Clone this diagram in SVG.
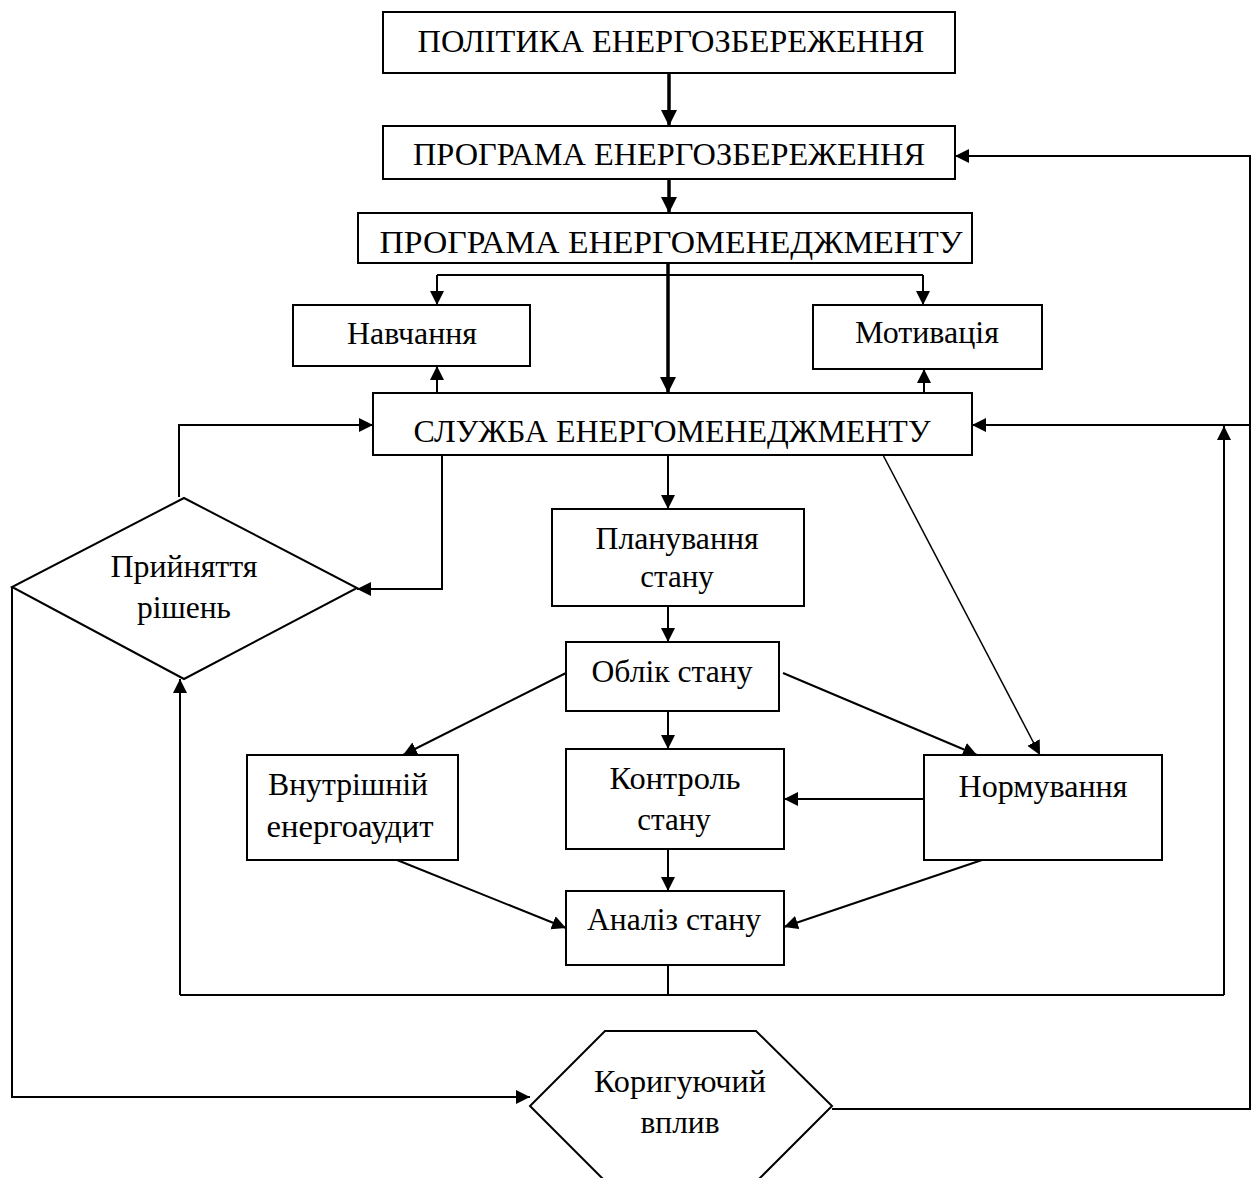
<svg xmlns="http://www.w3.org/2000/svg" width="1252" height="1178" viewBox="0 0 1252 1178">
<style>
.n{fill:#fff;stroke:#000;stroke-width:2}
.t{font-family:"Liberation Serif","Times New Roman",serif;font-size:31px;fill:#000;text-anchor:middle}
.u{font-size:32px}
.c{fill:none;stroke:#000;stroke-width:2}
.k{stroke-width:3.5}
.f{stroke-width:1.5}
</style>
<defs>
<marker id="a" markerUnits="userSpaceOnUse" markerWidth="15" markerHeight="15" refX="14" refY="7" orient="auto">
<path d="M0,0 L14,7 L0,14 z" fill="#000"/>
</marker>
<marker id="b" markerUnits="userSpaceOnUse" markerWidth="17" markerHeight="17" refX="16" refY="8" orient="auto">
<path d="M0,0 L16,8 L0,16 z" fill="#000"/>
</marker>
</defs>
<rect width="1252" height="1178" fill="#fff"/>
<g id="connectors">
<path class="c k" d="M669,73 V126" marker-end="url(#b)"/>
<path class="c k" d="M669,179 V213" marker-end="url(#b)"/>
<path class="c k" d="M668,263 V393" marker-end="url(#b)"/>
<path class="c" d="M437,275 H923"/>
<path class="c" d="M437,275 V305" marker-end="url(#a)"/>
<path class="c" d="M923,275 V305" marker-end="url(#a)"/>
<path class="c" d="M437,393 V366" marker-end="url(#a)"/>
<path class="c" d="M924,393 V369" marker-end="url(#a)"/>
<path class="c" d="M179,497 V425 H373" marker-end="url(#a)"/>
<path class="c" d="M442,455 V589 H357" marker-end="url(#a)"/>
<path class="c" d="M668,455 V509" marker-end="url(#a)"/>
<path class="c" d="M668,606 V642" marker-end="url(#a)"/>
<path class="c" d="M668,711 V749" marker-end="url(#a)"/>
<path class="c" d="M668,849 V891" marker-end="url(#a)"/>
<path class="c" d="M566,673 L403,755" marker-end="url(#a)"/>
<path class="c" d="M783,673 L977,755" marker-end="url(#a)"/>
<path class="c f" d="M883,455 L1040,755" marker-end="url(#a)"/>
<path class="c" d="M924,799 H784" marker-end="url(#a)"/>
<path class="c" d="M397,860 L566,928" marker-end="url(#a)"/>
<path class="c" d="M982,860 L784,927" marker-end="url(#a)"/>
<path class="c" d="M668,965 V995"/>
<path class="c" d="M180,995 H1224"/>
<path class="c" d="M180,995 V679" marker-end="url(#a)"/>
<path class="c" d="M1224,995 V426" marker-end="url(#a)"/>
<path class="c" d="M12,587 V1097 H530" marker-end="url(#a)"/>
<path class="c" d="M832,1109 H1250 V156 H955" marker-end="url(#a)"/>
<path class="c" d="M1250,425 H972" marker-end="url(#a)"/>
</g>
<g id="polityka">
<rect class="n" x="383" y="12" width="572" height="61"/>
<text class="t u" x="671" y="52" textLength="507" lengthAdjust="spacingAndGlyphs">ПОЛІТИКА ЕНЕРГОЗБЕРЕЖЕННЯ</text>
</g>
<g id="prohrama">
<rect class="n" x="383" y="126" width="572" height="53"/>
<text class="t u" x="669" y="165" textLength="512" lengthAdjust="spacingAndGlyphs">ПРОГРАМА ЕНЕРГОЗБЕРЕЖЕННЯ</text>
</g>
<g id="prohrama-em">
<rect class="n" x="358" y="213" width="614" height="50"/>
<text class="t u" x="671" y="253" textLength="583" lengthAdjust="spacingAndGlyphs">ПРОГРАМА ЕНЕРГОМЕНЕДЖМЕНТУ</text>
</g>
<g id="navchannia">
<rect class="n" x="293" y="305" width="237" height="61"/>
<text class="t" x="412" y="344" textLength="130" lengthAdjust="spacingAndGlyphs">Навчання</text>
</g>
<g id="motyvatsiia">
<rect class="n" x="813" y="305" width="229" height="64"/>
<text class="t" x="927" y="343" textLength="144" lengthAdjust="spacingAndGlyphs">Мотивація</text>
</g>
<g id="sluzhba">
<rect class="n" x="373" y="393" width="599" height="62"/>
<text class="t u" x="672" y="442" textLength="517" lengthAdjust="spacingAndGlyphs">СЛУЖБА ЕНЕРГОМЕНЕДЖМЕНТУ</text>
</g>
<g id="pryiniattia">
<polygon class="n" points="184,498 357,588 184,679 12,587"/>
<text class="t" x="184" y="577" textLength="147" lengthAdjust="spacingAndGlyphs">Прийняття</text>
<text class="t" x="184" y="618" textLength="94" lengthAdjust="spacingAndGlyphs">рішень</text>
</g>
<g id="planuvannia">
<rect class="n" x="552" y="509" width="252" height="97"/>
<text class="t" x="677" y="549" textLength="163" lengthAdjust="spacingAndGlyphs">Планування</text>
<text class="t" x="677" y="587">стану</text>
</g>
<g id="oblik">
<rect class="n" x="566" y="642" width="213" height="69"/>
<text class="t" x="672" y="682" textLength="161" lengthAdjust="spacingAndGlyphs">Облік стану</text>
</g>
<g id="kontrol">
<rect class="n" x="566" y="749" width="218" height="100"/>
<text class="t" x="675" y="789" textLength="131" lengthAdjust="spacingAndGlyphs">Контроль</text>
<text class="t" x="674" y="830">стану</text>
</g>
<g id="analiz">
<rect class="n" x="566" y="891" width="218" height="74"/>
<text class="t" x="674" y="930" textLength="174" lengthAdjust="spacingAndGlyphs">Аналіз стану</text>
</g>
<g id="vnutrishnii">
<rect class="n" x="247" y="755" width="211" height="105"/>
<text class="t" x="348" y="795" textLength="160" lengthAdjust="spacingAndGlyphs">Внутрішній</text>
<text class="t" x="350" y="837" textLength="167" lengthAdjust="spacingAndGlyphs">енергоаудит</text>
</g>
<g id="normuvannia">
<rect class="n" x="924" y="755" width="238" height="105"/>
<text class="t" x="1043" y="797" textLength="169" lengthAdjust="spacingAndGlyphs">Нормування</text>
</g>
<g id="koryhuiuchyi">
<polygon class="n" points="605,1031 756,1031 832,1106 757,1181 605,1181 530,1106"/>
<text class="t" x="680" y="1092" textLength="172" lengthAdjust="spacingAndGlyphs">Коригуючий</text>
<text class="t" x="680" y="1133" textLength="79" lengthAdjust="spacingAndGlyphs">вплив</text>
</g>
</svg>
